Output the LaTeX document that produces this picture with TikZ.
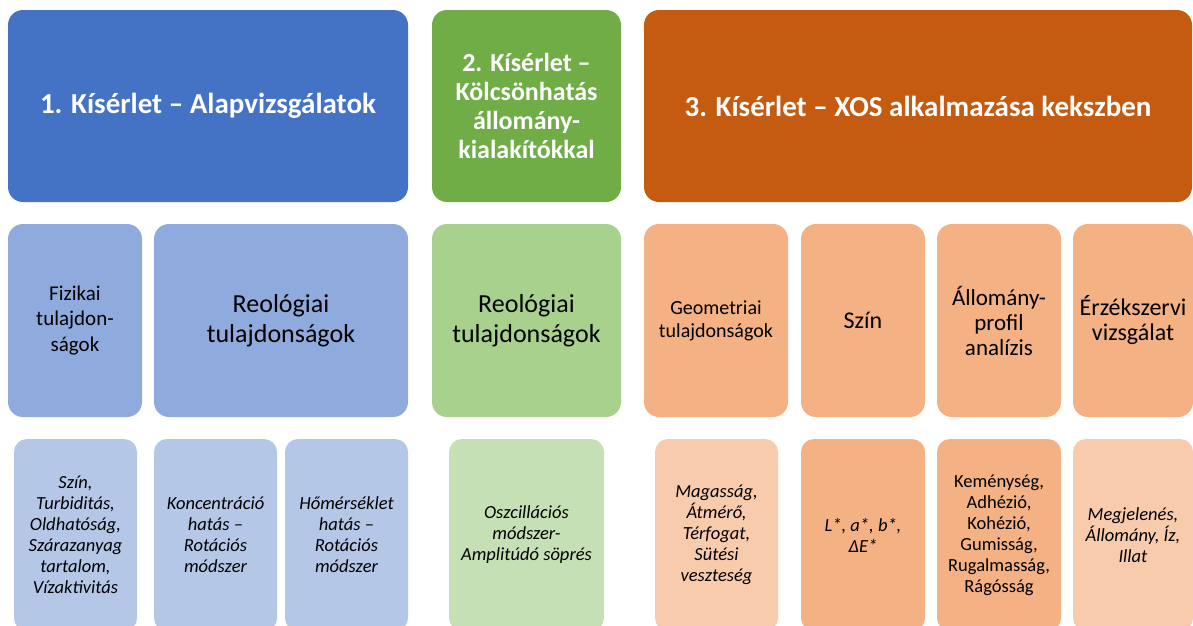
\documentclass[tikz,border=0pt]{standalone}
\usepackage{fontspec}
\setmainfont{Carlito}
\definecolor{kek}{HTML}{4472C4}
\definecolor{zold}{HTML}{70AD47}
\definecolor{narancs}{HTML}{C55A11}
\definecolor{kekk}{HTML}{8FAADC}
\definecolor{zoldk}{HTML}{A9D18E}
\definecolor{narancsk}{HTML}{F4B183}
\definecolor{kekv}{HTML}{B4C7E7}
\definecolor{zoldv}{HTML}{C5E0B4}
\definecolor{narancsv}{HTML}{F8CBAD}
\tikzset{
  doboz/.style={anchor=north west,rounded corners=15pt,inner sep=2pt,
    outer sep=0pt,align=center,text=black},
  fej/.style={doboz,minimum height=192,text=white,
    font=\fontsize{29}{32}\selectfont\bfseries},
  kozep/.style={doboz,minimum height=193,font=\fontsize{26}{30}\selectfont},
  also/.style={doboz,minimum height=192,rounded corners=13pt,
    font=\fontsize{18.5}{21}\selectfont\itshape}
}

\begin{document}
\begin{tikzpicture}[x=1pt,y=-1pt]
    \useasboundingbox (0,0) rectangle (1193,625);
    \clip (0,0) rectangle (1193,625);
    % kiserletek
    \node[fej,fill=kek,minimum width=400] (kis1) at (8,10)
      {1. Kísérlet – Alapvizsgálatok};
    \node[fej,fill=zold,minimum width=189,
      font=\fontsize{26}{29}\selectfont\bfseries] (kis2) at (432,10)
      {2. Kísérlet –\\Kölcsönhatás\\állomány-\\kialakítókkal};
    \node[fej,fill=narancs,minimum width=548] (kis3) at (644,10)
      {3. Kísérlet – XOS alkalmazása kekszben};
    % vizsgalatok
    \node[kozep,fill=kekk,minimum width=134,
      font=\fontsize{21}{25.5}\selectfont] (fiz) at (8,224)
      {Fizikai\\tulajdon-\\ságok};
    \node[kozep,fill=kekk,minimum width=254] (reo1) at (154,224)
      {Reológiai\\tulajdonságok};
    \node[kozep,fill=zoldk,minimum width=189] (reo2) at (432,224)
      {Reológiai\\tulajdonságok};
    \node[kozep,fill=narancsk,minimum width=144,
      font=\fontsize{20}{23}\selectfont] (geo) at (644,224)
      {Geometriai\\tulajdonságok};
    \node[kozep,fill=narancsk,minimum width=124,
      font=\fontsize{24}{27}\selectfont] (szin) at (801,224) {Szín};
    \node[kozep,fill=narancsk,minimum width=124,
      font=\fontsize{23}{25}\selectfont] (allo) at (937,224)
      {Állomány-\\profil\\analízis};
    \node[kozep,fill=narancsk,minimum width=120,
      font=\fontsize{24}{25}\selectfont] (erz) at (1073,224)
      {Érzékszervi\\vizsgálat};
    % modszerek
    \node[also,fill=kekv,minimum width=123] (m1) at (14,439)
      {Szín,\\Turbiditás,\\Oldhatóság,\\Szárazanyag\\tartalom,\\Vízaktivitás};
    \node[also,fill=kekv,minimum width=123] (m2) at (154,439)
      {Koncentráció\\hatás –\\Rotációs\\módszer};
    \node[also,fill=kekv,minimum width=123] (m3) at (285,439)
      {Hőmérséklet\\hatás –\\Rotációs\\módszer};
    \node[also,fill=zoldv,minimum width=155] (m4) at (449,439)
      {Oszcillációs\\módszer-\\Amplitúdó söprés};
    \node[also,fill=narancsv,minimum width=123] (m5) at (655,439)
      {Magasság,\\Átmérő,\\Térfogat,\\Sütési\\veszteség};
    \node[also,fill=narancsk,minimum width=124] (m6) at (801,439)
      {L*, a*, b*,\\ΔE*};
    \node[also,fill=narancsk,minimum width=124,
      font=\fontsize{18.5}{21}\selectfont] (m7) at (937,439)
      {Keménység,\\Adhézió,\\Kohézió,\\Gumisság,\\Rugalmasság,\\Rágósság};
    \node[also,fill=narancsv,minimum width=120] (m8) at (1073,439)
      {Megjelenés,\\Állomány, Íz,\\Illat};
  \end{tikzpicture}
\end{document}
